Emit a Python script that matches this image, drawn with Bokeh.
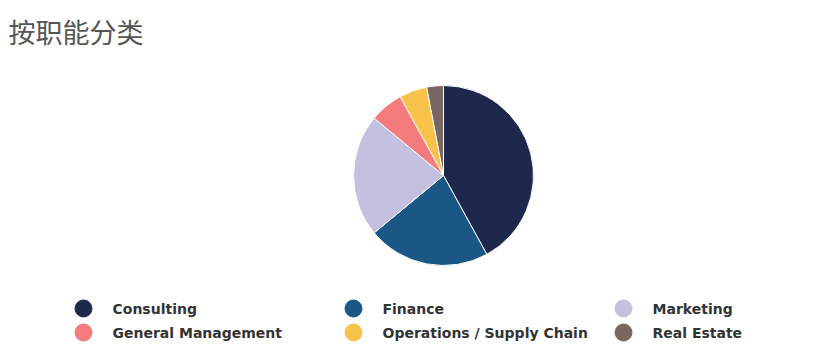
import math
from bokeh.plotting import figure
from bokeh.models import ColumnDataSource, Range1d
from bokeh.core.properties import value
from bokeh.embed import file_html
from bokeh.resources import INLINE

title = "按职能分类"
categories = ["Consulting", "Finance", "Marketing", "General Management",
              "Operations / Supply Chain", "Real Estate"]
values = [42, 22, 22, 6, 5, 3]
colors = ["#1e284d", "#1a5784", "#c3c1df", "#f47b7b", "#f9c24b", "#7a6660"]

# legend order (row-major, 3 columns)
legend_order = ["Consulting", "Finance", "Marketing",
                "General Management", "Operations / Supply Chain", "Real Estate"]

W, H = 809, 348
p = figure(width=W, height=H, output_backend="svg", toolbar_location=None,
           x_range=Range1d(0, W), y_range=Range1d(0, H), min_border=0)
p.axis.visible = False
p.grid.visible = False
p.outline_line_color = None
p.background_fill_color = "white"
p.border_fill_color = "white"

total = float(sum(values))
starts, ends = [], []
cum = 0.0
for v in values:
    a0 = math.pi / 2 - 2 * math.pi * cum / total
    cum += v
    a1 = math.pi / 2 - 2 * math.pi * cum / total
    starts.append(a1)
    ends.append(a0)

cx, cy, r = 443, 173, 90
src = ColumnDataSource(dict(start=starts, end=ends, color=colors, cat=categories))
p.wedge(x=cx, y=cy, radius=r, radius_units="screen", start_angle="start", end_angle="end",
        fill_color="color", line_color="white", line_width=1, source=src)

# legend
lx, ly, lc = [], [], []
for i, name in enumerate(legend_order):
    col = i % 3
    row = i // 3
    lx.append(83 + 270 * col)
    ly.append(40 - 24 * row)
    lc.append(colors[categories.index(name)])
lsrc = ColumnDataSource(dict(x=lx, y=ly, tx=[x + 29 for x in lx], name=legend_order, color=lc))
p.scatter(x="x", y="y", size=17, marker="circle", fill_color="color", line_color="color", source=lsrc)
p.text(x="tx", y="y", text="name", text_font=value("DejaVu Sans"), text_font_style="bold",
       text_font_size="14px", text_color="#333333", text_baseline="middle", text_align="left",
       source=lsrc)

p.text(x=[8], y=[317], text=[title], text_font=value("Noto Sans CJK SC"),
       text_font_size="27px", text_color="#555555", text_baseline="middle", text_align="left")

open("out.html", "w").write(file_html(p, INLINE))
